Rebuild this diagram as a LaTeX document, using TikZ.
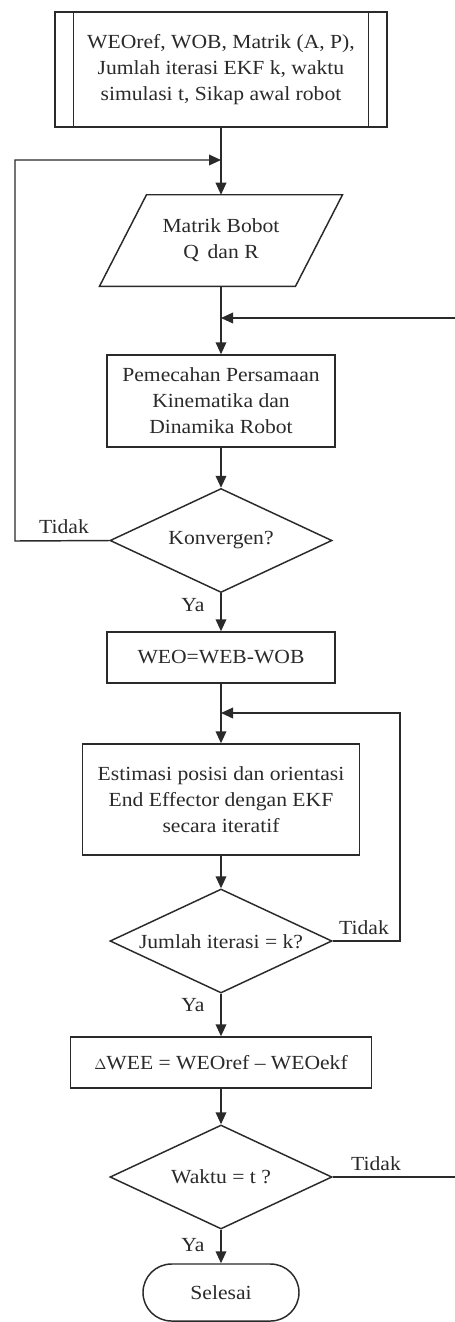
\documentclass[tikz,border=0pt]{standalone}
\usepackage{fontspec}
\setmainfont{Liberation Serif}[FakeStretch=1.08]
\usetikzlibrary{shapes.geometric,shapes.misc,calc,arrows.meta}
\definecolor{ink}{HTML}{2A2A2A}
\begin{document}
\begin{tikzpicture}[x=0.75pt,y=-0.75pt,
  every node/.style={font=\fontsize{15pt}{19.5pt}\selectfont, text=ink},
  box/.style={draw=ink, line width=1.1pt, rectangle, inner sep=0pt, align=center},
  dec/.style={draw=ink, line width=1.1pt, diamond, inner sep=0pt, minimum width=166.5pt, minimum height=78pt},
  term/.style={draw=ink, line width=1.1pt, rounded rectangle, inner sep=0pt, minimum width=117pt, minimum height=42.75pt},
  plain/.style={inner sep=0pt, align=center},
  lbl/.style={inner sep=0pt},
  conn/.style={draw=ink, line width=1.1pt},
  arr/.style={conn, -{Triangle[length=9pt,width=8pt]}}
]
\useasboundingbox[fill=white] (0,0) rectangle (454,1322);

% nodes
\node[box, minimum width=249pt, minimum height=86.25pt] (in) at (221,69.5)
  {WEOref, WOB, Matrik (A, P),\\Jumlah iterasi EKF k, waktu\\simulasi t, Sikap awal robot};
\draw[conn] ($(in.north west)+(19,0)$) -- ($(in.south west)+(19,0)$);
\draw[conn] ($(in.north east)+(-19,0)$) -- ($(in.south east)+(-19,0)$);

\node[plain, minimum width=146.6pt, minimum height=68.25pt] (par) at (221,240.5) {Matrik Bobot\\Q\, dan R};
\draw[conn] ($(par.south west)+(-23.5,0)$) -- ($(par.north west)+(23.5,0)$)
  -- ($(par.north east)+(23.5,0)$) -- ($(par.south east)+(-23.5,0)$) -- cycle;

\node[box, minimum width=171pt, minimum height=69pt] (kin) at (221,401)
  {Pemecahan Persamaan\\Kinematika dan\\Dinamika Robot};
\node[dec, label=center:{Konvergen?}] (konv) at (221,540.5) {};
\node[box, minimum width=171pt, minimum height=38.25pt] (weo) at (221,657.5) {WEO=WEB-WOB};
\node[box, minimum width=207.75pt, minimum height=83.25pt] (est) at (221,799.5)
  {Estimasi posisi dan orientasi\\End Effector dengan EKF\\secara iteratif};
\node[dec, label={[yshift=-0.5pt]center:{Jumlah iterasi = k?}}] (iter) at (221,941) {};
\node[box, minimum width=225.75pt, minimum height=38.25pt] (dwee) at (221,1062.5)
  {$\scriptstyle\Delta$WEE = WEOref -- WEOekf};
\node[dec, label=center:{Waktu = t ?}] (wkt) at (221,1177) {};
\node[term] (end) at (221,1292.5) {Selesai};

% junction coordinates
\coordinate (j1) at (221,160);
\coordinate (j2) at (221,318);
\coordinate (j3) at (221,713);
\coordinate (l1) at (15,541);
\coordinate (l2) at (15,160);
\coordinate (r1) at (400,941);
\coordinate (r2) at (400,713);
\coordinate (e1) at (457,1177);
\coordinate (e2) at (457,318);

% connectors
\draw[arr] (in.south) -- (par.north);
\draw[arr] (par.south) -- (kin.north);
\draw[arr] (kin.south) -- (konv.north);
\draw[arr] (konv.south) -- (weo.north);
\draw[arr] (weo.south) -- (est.north);
\draw[arr] (est.south) -- (iter.north);
\draw[arr] (iter.south) -- (dwee.north);
\draw[arr] (dwee.south) -- (wkt.north);
\draw[arr] (wkt.south) -- (end.north);

\draw[arr] (konv.west) -- (l1) -- (l2) -- (j1);
\draw[arr] (iter.east) -- (r1) -- (r2) -- (j3);
\draw[arr] (wkt.east) -- (e1) -- (e2) -- (j2);

% labels
\node[lbl] (t1) at (64,527) {Tidak};
\node[lbl] (y1) at (193,605) {Ya};
\node[lbl] (t2) at (364,928) {Tidak};
\node[lbl] (y2) at (193,1005) {Ya};
\node[lbl] (t3) at (376,1164) {Tidak};
\node[lbl] (y3) at (193,1245) {Ya};
\end{tikzpicture}
\end{document}
